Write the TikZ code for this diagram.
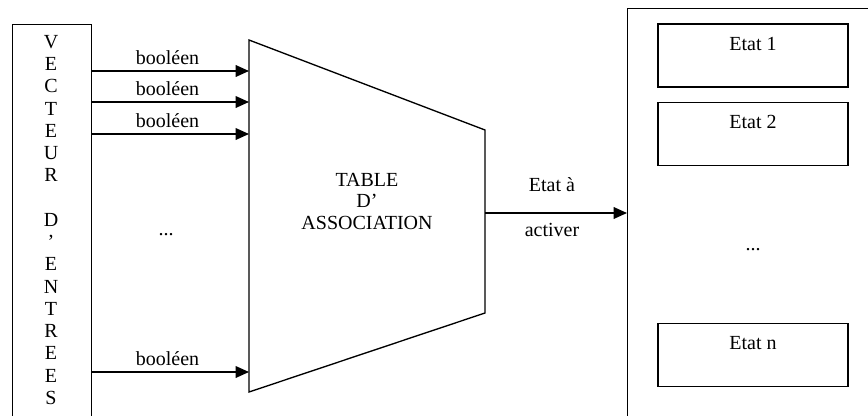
\documentclass[tikz,border=0pt]{standalone}
\usepackage{fontspec}
\setmainfont{Liberation Serif}
\usetikzlibrary{arrows.meta,positioning}

\begin{document}
\begin{tikzpicture}[x=0.6pt, y=-0.6pt, line width=0.8pt, >={Triangle[length=8pt,width=7pt]}]
        \tikzstyle{every node}=[font=\fontsize{12}{13.35}\selectfont]
        \tikzstyle{bloc}=[draw, anchor=north west, inner sep=0pt]
        \tikzstyle{etat}=[draw, minimum width=114pt, minimum height=37.8pt, inner sep=0pt]
        \tikzstyle{bool}=[above, pos=0.48]
        \clip (0,0) rectangle (868,416);
        % vecteur d'entrees
        \node [bloc, minimum width=47.4pt, minimum height=260pt] (vec) at (12,24) {};
        \node [align=center] (lettres) at (51,220) {V\\E\\C\\T\\E\\U\\R\\\mbox{}\\D\\'\\E\\N\\T\\R\\E\\E\\S};
        % table d'association
        \draw (249,40) coordinate (t1) -- (485,130) coordinate (t2) -- (485,313) coordinate (t3) -- (249,392) coordinate (t4) -- cycle;
        \node [align=center, font=\fontsize{12}{12.9}\selectfont] (table) at (367,201) {TABLE\\D'\\ASSOCIATION};
        % etats
        \node [bloc, minimum width=160pt, minimum height=260pt] (etats) at (627,7.5) {};
        \node [etat] (e1) at (753,55.5) {};
        \node [etat] (e2) at (753,134) {};
        \node [etat] (en) at (753,355) {};
        \node (l1) [below=4.5pt of e1.north] {Etat 1};
        \node (l2) [below=4.5pt of e2.north] {Etat 2};
        \node (ln) [below=4.5pt of en.north] {Etat n};
        \node (pts2) at (753,250) {...};
        % entrees
        \draw [->] (vec.east |- 0,71) -- (t1 |- 0,71) node [bool] {booléen};
        \draw [->] (vec.east |- 0,102) -- (t1 |- 0,102) node [bool] {booléen};
        \draw [->] (vec.east |- 0,134) -- (t1 |- 0,134) node [bool] {booléen};
        \draw [->] (vec.east |- 0,372) -- (t1 |- 0,372) node [bool] {booléen};
        \node (pts1) at (166,235) {...};
        % sortie
        \draw [->] (t2 |- 0,213) -- (etats.west |- 0,213);
        \node (sortie1) at (552,185) {Etat à};
        \node (sortie2) at (552,230) {activer};
    \end{tikzpicture}
\end{document}
